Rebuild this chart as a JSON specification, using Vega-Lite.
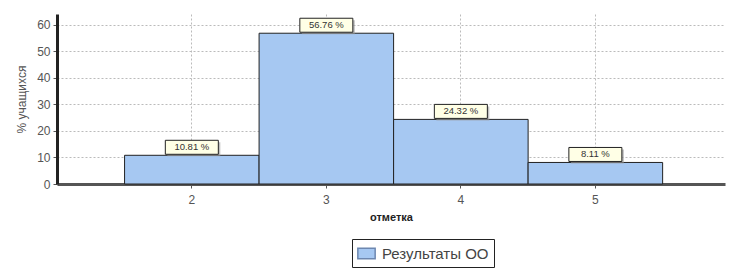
{
  "$schema": "https://vega.github.io/schema/vega-lite/v6.json",
  "width": 668,
  "height": 170,
  "autosize": "none",
  "padding": {"left": 57, "top": 14, "right": 4, "bottom": 87},
  "background": "white",
  "config": {
    "view": {"stroke": null},
    "font": "Liberation Sans"
  },
  "data": {
    "values": [
      {"mark": "2", "pct": 10.81, "label": "10.81 %", "series": "Результаты ОО"},
      {"mark": "3", "pct": 56.76, "label": "56.76 %", "series": "Результаты ОО"},
      {"mark": "4", "pct": 24.32, "label": "24.32 %", "series": "Результаты ОО"},
      {"mark": "5", "pct": 8.11, "label": "8.11 %", "series": "Результаты ОО"}
    ]
  },
  "encoding": {
    "x": {
      "field": "mark", "type": "ordinal",
      "scale": {"type": "band", "domain": ["2", "3", "4", "5"], "paddingInner": 0, "paddingOuter": 0.483, "align": 0.52},
      "axis": {
        "title": "отметка", "titleFont": "Liberation Sans", "titleFontSize": 11, "titleFontWeight": "bold",
        "titleColor": "#222", "titlePadding": 6,
        "labelAngle": 0, "labelFontSize": 12, "labelColor": "#555", "labelPadding": 6,
        "domain": true, "domainColor": "#555", "domainWidth": 3,
        "ticks": true, "tickColor": "#555", "tickSize": 4, "tickBand": "center",
        "grid": true, "gridColor": "#bbb", "gridDash": [2, 2], "gridWidth": 1
      }
    },
    "y": {
      "field": "pct", "type": "quantitative",
      "scale": {"domain": [0, 64], "nice": false},
      "axis": {
        "title": "% учащихся", "titleFont": "Liberation Sans", "titleFontSize": 12, "titleFontWeight": "normal",
        "titleColor": "#555", "titlePadding": 8,
        "values": [0, 10, 20, 30, 40, 50, 60],
        "labelFontSize": 12, "labelColor": "#555", "labelPadding": 3,
        "domain": true, "domainColor": "#222", "domainWidth": 3,
        "ticks": true, "tickColor": "#555", "tickSize": 4,
        "grid": true, "gridColor": "#bbb", "gridDash": [2, 2], "gridWidth": 1
      }
    }
  },
  "layer": [
    {
      "mark": {"type": "bar", "stroke": "#222", "strokeWidth": 1},
      "encoding": {
        "fill": {
          "field": "series", "type": "nominal",
          "scale": {"range": ["#a6c8f2"]},
          "legend": {
            "title": null, "orient": "none", "legendX": 295, "legendY": 225,
            "direction": "horizontal",
            "labelFont": "Liberation Sans", "labelFontSize": 15, "labelColor": "#444", "labelOffset": 6,
            "symbolType": "M-1,-0.6H1V0.6H-1Z", "symbolSize": 300, "symbolStrokeColor": "#6d87b0", "symbolStrokeWidth": 1.5,
            "symbolFillColor": "#a6c8f2",
            "strokeColor": "#222", "fillColor": "white", "padding": 5, "cornerRadius": 0
          }
        }
      }
    },
    {
      "mark": {"type": "point", "shape": "M-1,-0.264H1V0.264H-1Z", "size": 2809, "filled": true, "fill": "#999", "opacity": 0.6, "xOffset": 2, "yOffset": -6},
      "encoding": {}
    },
    {
      "mark": {"type": "point", "shape": "M-1,-0.264H1V0.264H-1Z", "size": 2809, "filled": true, "fill": "#ffffe6", "stroke": "#222", "strokeWidth": 1, "opacity": 1, "yOffset": -8},
      "encoding": {}
    },
    {
      "mark": {"type": "text", "fontSize": 9.5, "color": "#333", "yOffset": -8, "baseline": "middle", "align": "center"},
      "encoding": {"text": {"field": "label"}}
    }
  ]
}
